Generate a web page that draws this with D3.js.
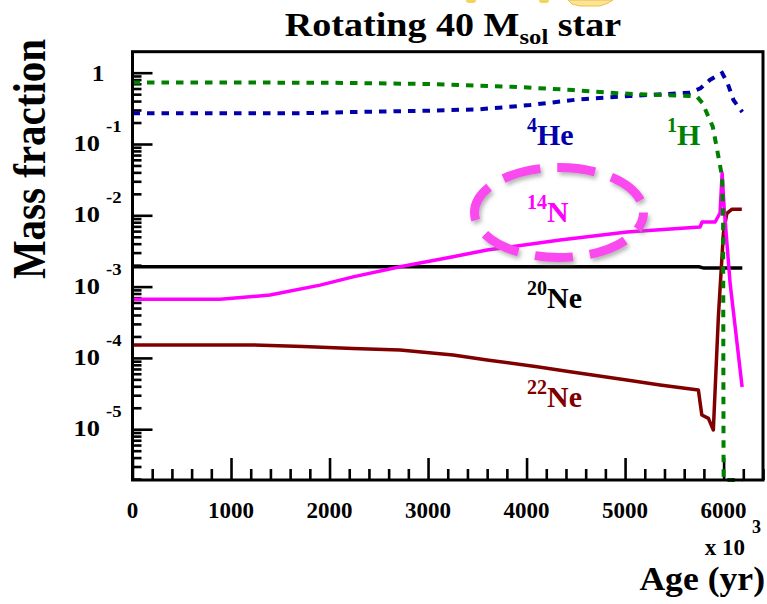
<!DOCTYPE html>
<html><head><meta charset="utf-8">
<script src="https://cdn.jsdelivr.net/npm/d3@7"></script>
<style>
html,body{margin:0;padding:0;background:#fff;}
svg text{font-family:"Liberation Serif","Times New Roman",serif;font-weight:bold;}
</style></head>
<body>
<svg id="chart" width="767" height="604"></svg>
<script>
// ---- data (age in units of 10^3 yr, mass fraction) ----
const ageH    = [0, 2000, 3000, 3850, 4470, 4920, 5660, 5730, 5785, 5890, 5935, 5985, 5995, 5998, 6000, 6190];
const massH   = [0.73, 0.724, 0.694, 0.636, 0.572, 0.514, 0.471, 0.461, 0.376, 0.175, 0.0824, 0.0345, 0.00946, 4.45e-5, 1e-9, 1e-9];
const ageHe   = [0, 1700, 2400, 3000, 3530, 4035, 4540, 5050, 5660, 5765, 5860, 5985, 6040, 6100, 6190];
const massHe  = [0.27, 0.27, 0.284, 0.293, 0.307, 0.352, 0.424, 0.471, 0.524, 0.604, 0.79, 0.99, 0.717, 0.414, 0.281];
const ageN14  = [0, 890, 1396, 1904, 2239, 2716, 3254, 3599, 4340, 5020, 5761, 5782, 5914, 5964, 5985, 6005, 6066, 6188];
const massN14 = [6.64e-4, 6.64e-4, 7.62e-4, 1.05e-3, 1.37e-3, 1.90e-3, 2.62e-3, 3.26e-3, 4.50e-3, 5.83e-3, 6.86e-3, 8.06e-3, 8.06e-3, 1.077e-2, 3.92e-2, 1.306e-2, 1.12e-3, 3.91e-5];
const ageNe20 = [0, 5750, 5800, 6190];
const massNe20= [1.90e-3, 1.90e-3, 1.82e-3, 1.82e-3];
const ageNe22 = [0, 1223, 1731, 2239, 2716, 3254, 3599, 4107, 4442, 5017, 5355, 5744, 5779, 5846, 5896, 5947, 5998, 6033, 6083, 6185];
const massNe22= [1.52e-4, 1.52e-4, 1.44e-4, 1.36e-4, 1.29e-4, 1.10e-4, 9.35e-5, 7.54e-5, 6.41e-5, 4.90e-5, 4.17e-5, 3.55e-5, 1.58e-5, 1.42e-5, 9.75e-6, 3.78e-4, 5.59e-3, 1.067e-2, 1.214e-2, 1.214e-2];

const xTickValues = [0, 1000, 2000, 3000, 4000, 5000, 6000];
const xTickLabels = ["0", "1000", "2000", "3000", "4000", "5000", "6000"];
const yDecades    = [1, 1e-1, 1e-2, 1e-3, 1e-4, 1e-5];
const yExponents  = ["", "-1", "-2", "-3", "-4", "-5"];

const seriesNames = ["1H", "4He", "14N", "20Ne", "22Ne"];

// ---- layout ----
const L = 132.5, R = 763, T = 51.7, B = 480;
const svg = d3.select("#chart");

const x = d3.scaleLinear().domain([0, 6400]).range([L, R]);
const y = d3.scaleLog().domain([1.94e-6, 1.97]).range([B, T]).clamp(true);

const defs = svg.append("defs");
const f = defs.append("filter").attr("id", "shadow").attr("x", "-20%").attr("y", "-20%").attr("width", "140%").attr("height", "150%");
f.append("feDropShadow").attr("dx", 2).attr("dy", 3).attr("stdDeviation", 2.2)
  .attr("flood-color", "#777").attr("flood-opacity", 0.55);

// ---- ticks ----
const xMinor = d3.range(0, 6401, 200).filter(v => v % 1000 !== 0);
svg.append("g").attr("transform", `translate(0,${B})`)
  .call(d3.axisBottom(x).tickValues(xMinor).tickSize(-11).tickFormat(""))
  .call(g => g.select(".domain").remove())
  .selectAll("line").attr("stroke", "#000").attr("stroke-width", 2.6);
svg.append("g").attr("transform", `translate(0,${B})`)
  .call(d3.axisBottom(x).tickValues(xTickValues).tickSize(-22).tickFormat(""))
  .call(g => g.select(".domain").remove())
  .selectAll("line").attr("stroke", "#000").attr("stroke-width", 2.6);

const yMinor = [];
for (let d = -6; d <= 0; d++) for (let k = 2; k <= 9; k++) {
  const v = k * Math.pow(10, d);
  if (v >= 1.94e-6 && v <= 1.97) yMinor.push(v);
}
svg.append("g").attr("transform", `translate(${L},0)`)
  .call(d3.axisLeft(y).tickValues(yMinor).tickSize(-9).tickFormat(""))
  .call(g => g.select(".domain").remove())
  .selectAll("line").attr("stroke", "#000").attr("stroke-width", 2.6);
svg.append("g").attr("transform", `translate(${L},0)`)
  .call(d3.axisLeft(y).tickValues(yDecades).tickSize(-20).tickFormat(""))
  .call(g => g.select(".domain").remove())
  .selectAll("line").attr("stroke", "#000").attr("stroke-width", 2.6);

// ---- curves ----
const line = d3.line().x(d => x(d[0])).y(d => y(d[1]));
function series(ages, vals) { return ages.map((a, i) => [a, vals[i]]); }

svg.append("path").datum(series(ageNe20, massNe20)).attr("d", line)
  .attr("fill", "none").attr("stroke", "#000").attr("stroke-width", 3.5);
svg.append("path").datum(series(ageNe22, massNe22)).attr("d", line)
  .attr("fill", "none").attr("stroke", "#800000").attr("stroke-width", 3.5).attr("stroke-linejoin", "round");
svg.append("path").datum(series(ageN14, massN14)).attr("d", line)
  .attr("fill", "none").attr("stroke", "#ff00ff").attr("stroke-width", 3.5).attr("stroke-linejoin", "round");
svg.append("path").datum(series(ageHe, massHe)).attr("d", line)
  .attr("fill", "none").attr("stroke", "#0000aa").attr("stroke-width", 4).attr("stroke-dasharray", "7.5,7");
svg.append("path").datum(series(ageH, massH)).attr("d", line)
  .attr("fill", "none").attr("stroke", "#008000").attr("stroke-width", 4).attr("stroke-dasharray", "7.5,7");

// ---- frame ----
svg.append("rect").attr("x", L).attr("y", T).attr("width", R - L).attr("height", B - T)
  .attr("fill", "none").attr("stroke", "#000").attr("stroke-width", 3);

// ---- annotation ellipse ----
svg.append("ellipse").attr("cx", 559).attr("cy", 212.5).attr("rx", 84.5).attr("ry", 45)
  .attr("fill", "none").attr("stroke", "#f948ef").attr("stroke-width", 9)
  .attr("stroke-dasharray", "38,17").attr("stroke-dashoffset", 20)
  .attr("filter", "url(#shadow)");

// top cut-off decoration
svg.append("ellipse").attr("cx", 471).attr("cy", 1).attr("rx", 5).attr("ry", 2).attr("fill", "#f5d25a");
svg.append("ellipse").attr("cx", 544).attr("cy", 1).attr("rx", 5).attr("ry", 2).attr("fill", "#f5d25a");
svg.append("path").attr("d", "M568,0 L572,4 L580,6 L600,6 L608,3 L613,0 Z").attr("fill", "#fbe39a").attr("stroke", "#f0c040").attr("stroke-width", 1);

// ---- labels ----
function stretched(xp, yp, sx, anchor) {
  return svg.append("g").attr("transform", `translate(${xp},${yp}) scale(${sx},1)`)
    .append("text").attr("text-anchor", anchor || "start");
}
// title
const title = stretched(453, 36, 1.12, "middle").attr("font-size", 34).attr("fill", "#000");
title.append("tspan").text("Rotating 40 M");
title.append("tspan").attr("font-size", 22).attr("dy", 8).text("sol");
title.append("tspan").attr("dy", -8).text(" star");

// y axis title (glyph height stretched like the rest of the picture)
svg.append("g").attr("transform", `translate(45,159) rotate(-90) scale(1,1.12)`)
  .append("text").attr("text-anchor", "middle").attr("font-size", 41).text("Mass fraction");

// y tick labels
yDecades.forEach((v, i) => {
  const yy = y(v);
  if (yExponents[i] === "") {
    stretched(98, yy + 8, 1.1, "middle").attr("font-size", 23).text("1");
  } else {
    stretched(100, yy + 7, 1.1, "end").attr("font-size", 24).text("10");
    stretched(106, yy - 12, 1.1, "start").attr("font-size", 17).text(yExponents[i]);
  }
});

// x tick labels
xTickValues.forEach((v, i) => {
  svg.append("text").attr("x", x(v)).attr("y", 518).attr("text-anchor", "middle").attr("font-size", 23).text(xTickLabels[i]);
});
svg.append("text").attr("x", 745).attr("y", 555).attr("text-anchor", "end").attr("font-size", 23).text("x 10");
svg.append("text").attr("x", 752).attr("y", 533).attr("font-size", 18).text("3");
stretched(765, 590, 1.08, "end").attr("font-size", 33).text("Age (yr)");

// series labels
function isoLabel(xp, yp, mass, sym, color) {
  const t = svg.append("text").attr("x", xp).attr("y", yp).attr("fill", color).attr("font-size", 30);
  t.append("tspan").attr("font-size", 20).attr("dy", -13).text(mass);
  t.append("tspan").attr("dy", 13).text(sym);
}
isoLabel(527, 145, "4", "He", "#0000aa");
isoLabel(667, 145, "1", "H", "#008000");
isoLabel(527, 222, "14", "N", "#ff00ff");
isoLabel(527, 308, "20", "Ne", "#000");
isoLabel(527, 407, "22", "Ne", "#800000");
</script>
</body></html>
